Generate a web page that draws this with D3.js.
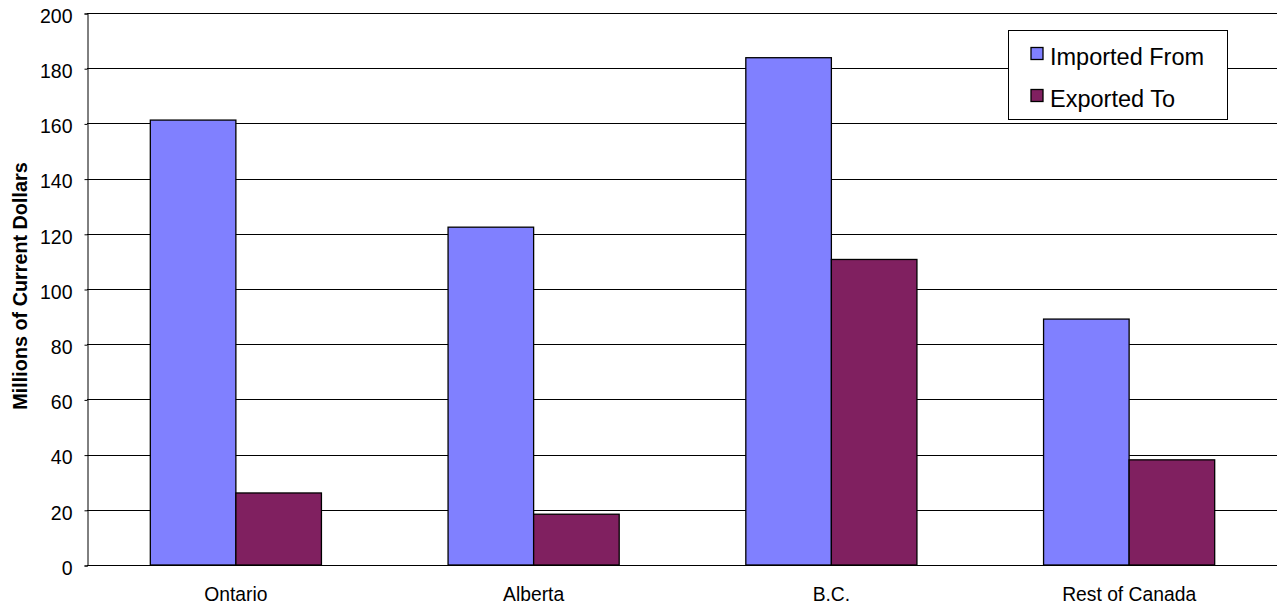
<html>
<head>
  <script src="https://cdnjs.cloudflare.com/ajax/libs/d3/7.8.5/d3.min.js"></script>
  <style>
    body { margin: 0; background: #fff; }
    text { font-family: "Liberation Sans", Arial, sans-serif; }
  </style>
</head>
<body>
  <script>
    const regions = ["Ontario", "Alberta", "B.C.", "Rest of Canada"];
    const seriesNames = ["Imported From", "Exported To"];
    const importedFrom = [161.2, 122.4, 183.8, 89.1];
    const exportedTo = [26.1, 18.4, 110.7, 38.1];
    const yTicks = [0, 20, 40, 60, 80, 100, 120, 140, 160, 180, 200];
    const colors = ["#8080ff", "#802060"];

    const width = 1277, height = 604;
    const plotLeft = 87, plotTop = 13, plotW = 1191, plotBottom = 565;

    const svg = d3.select("body")
      .append("svg")
      .attr("width", width)
      .attr("height", height);

    const y = d3.scaleLinear().domain([0, 200]).range([plotBottom, plotTop]);
    const x0 = d3.scaleBand().domain(regions).range([plotLeft, plotLeft + plotW]).paddingInner(0).paddingOuter(0);
    const x1 = d3.scaleBand().domain(seriesNames).range([0, x0.bandwidth()]).paddingInner(0).paddingOuter(0.74);

    // gridlines
    svg.append("g")
      .selectAll("line")
      .data(yTicks)
      .enter()
      .append("line")
      .attr("x1", plotLeft)
      .attr("x2", plotLeft + plotW)
      .attr("y1", d => Math.round(y(d)) + 0.5)
      .attr("y2", d => Math.round(y(d)) + 0.5)
      .attr("stroke", "#000")
      .attr("stroke-width", 1);

    // y axis
    const yAxis = svg.append("g")
      .attr("transform", `translate(${plotLeft + 0.5},0.5)`)
      .call(d3.axisLeft(y).tickValues(yTicks).tickSize(3).tickPadding(12));
    yAxis.select(".domain").attr("stroke", "#000");
    yAxis.selectAll(".tick line").attr("stroke", "#000");
    yAxis.selectAll("text").attr("font-size", 19.5).attr("fill", "#000")
      .attr("dy", "0.45em")
      .attr("font-family", "Liberation Sans, Arial, sans-serif");

    // bars
    const rows = regions.map((r, i) => ({ region: r, values: [importedFrom[i], exportedTo[i]] }));
    const groups = svg.append("g")
      .selectAll("g")
      .data(rows)
      .enter()
      .append("g")
      .attr("transform", d => `translate(${x0(d.region)},0)`);

    groups.selectAll("rect")
      .data(d => d.values.map((v, j) => ({ name: seriesNames[j], value: v, j: j })))
      .enter()
      .append("rect")
      .attr("x", d => x1(d.name))
      .attr("y", d => y(d.value))
      .attr("width", x1.bandwidth())
      .attr("height", d => plotBottom - y(d.value))
      .attr("fill", d => colors[d.j])
      .attr("stroke", "#000")
      .attr("stroke-width", 1.3);

    // x labels
    svg.append("g")
      .selectAll("text")
      .data(regions)
      .enter()
      .append("text")
      .attr("x", d => x0(d) + x0.bandwidth() / 2)
      .attr("y", 601)
      .attr("text-anchor", "middle")
      .attr("font-size", 19.3)
      .text(d => d);

    // y title
    svg.append("text")
      .attr("transform", "translate(27,286) rotate(-90)")
      .attr("text-anchor", "middle")
      .attr("font-size", 19.8)
      .attr("font-weight", "bold")
      .text("Millions of Current Dollars");

    // legend
    const legend = svg.append("g");
    legend.append("rect")
      .attr("x", 1008.5).attr("y", 30.5)
      .attr("width", 219).attr("height", 89)
      .attr("fill", "#fff").attr("stroke", "#000");
    const items = legend.selectAll("g")
      .data(seriesNames)
      .enter()
      .append("g")
      .attr("transform", (d, i) => `translate(0,${i * 42})`);
    items.append("rect")
      .attr("x", 1031).attr("y", 47.5)
      .attr("width", 12).attr("height", 12)
      .attr("fill", (d, i) => colors[i])
      .attr("stroke", "#000").attr("stroke-width", 1.3);
    items.append("text")
      .attr("x", 1050).attr("y", 65)
      .attr("font-size", 23.5)
      .text(d => d);
  </script>
</body>
</html>
